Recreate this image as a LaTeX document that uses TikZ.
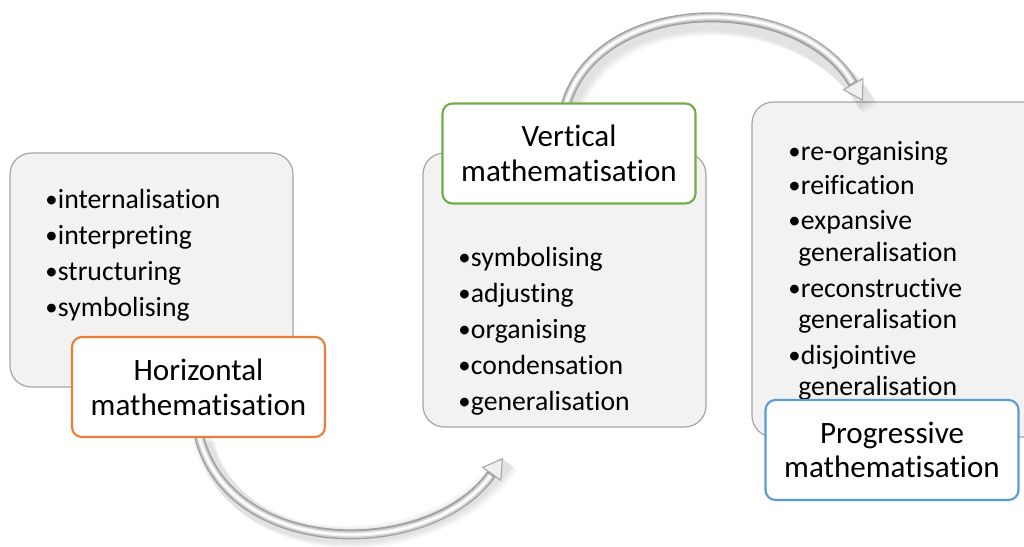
\documentclass[tikz,border=0pt]{standalone}
\usepackage{fontspec}
\setmainfont[Ligatures={NoCommon}]{Carlito}
\usetikzlibrary{arrows.meta,calc}
\definecolor{boxfill}{HTML}{F2F2F2}
\definecolor{boxline}{HTML}{A6A6A6}
\definecolor{cOrange}{HTML}{ED7D31}
\definecolor{cGreen}{HTML}{70AD47}
\definecolor{cBlue}{HTML}{5B9BD5}
\definecolor{tubeDark}{HTML}{A0A0A0}
\newcommand{\bul}{{\fontsize{18.5}{18}\selectfont\raisebox{0.3pt}{•}}\kern0.3pt}
\tikzset{
  graybox/.style={draw=boxline, fill=boxfill, line width=0.9pt, rounded corners=16pt, inner sep=0pt},
  titlebox/.style={draw=#1, fill=white, line width=1.6pt, rounded corners=7.5pt, inner sep=0pt,
     minimum width={253*0.75pt}, minimum height={100*0.75pt}, align=center,
     font=\fontsize{23.3}{26}\selectfont},
  item/.style={anchor=base west, inner sep=0pt, font=\fontsize{20.8}{27}\selectfont},
  tubeshadowA/.style={line width=13pt, black, opacity=0.04},
  tube/.style={line width=7.5pt, tubeDark, -{Triangle[length=15pt, width=18pt, line width=0.8pt, fill=gray!12, color=gray!70]}},
  tubemid/.style={line width=5.2pt, gray!40},
  tubelight/.style={line width=3pt, gray!12},
  tubewhite/.style={line width=1.2pt, white},
}
\begin{document}
\begin{tikzpicture}[x=0.75pt, y=-0.75pt]
\clip (0,0) rectangle (1024,546);
\useasboundingbox (0,0) rectangle (1024,546);

% gray content boxes
\node[graybox, minimum width={283*0.75pt}, minimum height={234*0.75pt}] (hbox) at (151.5,270) {};
\node[graybox, minimum width={283*0.75pt}, minimum height={274*0.75pt}] (vbox) at (564.5,290) {};
\node[graybox, minimum width={300*0.75pt}, minimum height={335*0.75pt}] (pbox) at (902,269.5) {};

% positions
\coordinate (hpos) at (198.5,387);
\coordinate (vpos) at (569,153.5);
\coordinate (ppos) at (892,450);
\coordinate (vtip) at (503,458);
\coordinate (ptip) at (863,101);
\coordinate (hstart) at (199,436);
\coordinate (vstart) at (566,104);

% curved arrows (tubes)
\foreach \s in {3,5,7}{
  \draw[tubeshadowA] ([shift={(\s,\s)}]hstart) .. controls ([shift={(\s,\s)}]230,560) and ([shift={(\s,\s)}]430,560) .. ([shift={(\s,\s)}]vtip);
  \draw[tubeshadowA] ([shift={(\s,\s)}]vstart) .. controls ([shift={(\s,\s)}]600,-8) and ([shift={(\s,\s)}]800,-8) .. ([shift={(\s,\s)}]ptip);
}
\draw[tube] (hstart) .. controls (230,560) and (430,560) .. (vtip);
\draw[tubemid, shorten >=16pt] (hstart) .. controls (230,560) and (430,560) .. (vtip);
\draw[tubelight, shorten >=16pt] (hstart) .. controls (230,560) and (430,560) .. (vtip);
\draw[tubewhite, shorten >=16pt] (hstart) .. controls (230,560) and (430,560) .. (vtip);

\draw[tube] (vstart) .. controls (600,-8) and (800,-8) .. (ptip);
\draw[tubemid, shorten >=16pt] (vstart) .. controls (600,-8) and (800,-8) .. (ptip);
\draw[tubelight, shorten >=16pt] (vstart) .. controls (600,-8) and (800,-8) .. (ptip);
\draw[tubewhite, shorten >=16pt] (vstart) .. controls (600,-8) and (800,-8) .. (ptip);

% left list
\node[item] (h1) at (45,208) {\bul internalisation};
\node[item] (h2) at (45,244) {\bul interpreting};
\node[item] (h3) at (45,280) {\bul structuring};
\node[item] (h4) at (45,316) {\bul symbolising};

% middle list
\node[item] (v1) at (458,266) {\bul symbolising};
\node[item] (v2) at (458,302) {\bul adjusting};
\node[item] (v3) at (458,338) {\bul organising};
\node[item] (v4) at (458,374) {\bul condensation};
\node[item] (v5) at (458,410) {\bul generalisation};

% right list
\node[item] (p1) at (788,160) {\bul re-organising};
\node[item] (p2) at (788,194) {\bul reification};
\node[item] (p3) at (788,229) {\bul expansive};
\node[item] (p3b) at (798,261) {generalisation};
\node[item] (p4) at (788,297) {\bul reconstructive};
\node[item] (p4b) at (798,328) {generalisation};
\node[item] (p5) at (788,364) {\bul disjointive};
\node[item] (p5b) at (798,395) {generalisation};

% title boxes
\node[titlebox=cOrange] (htitle) at (hpos) {Horizontal\\mathematisation};
\node[titlebox=cGreen] (vtitle) at (vpos) {Vertical\\mathematisation};
\node[titlebox=cBlue] (ptitle) at (ppos) {Progressive\\mathematisation};
\end{tikzpicture}
\end{document}
